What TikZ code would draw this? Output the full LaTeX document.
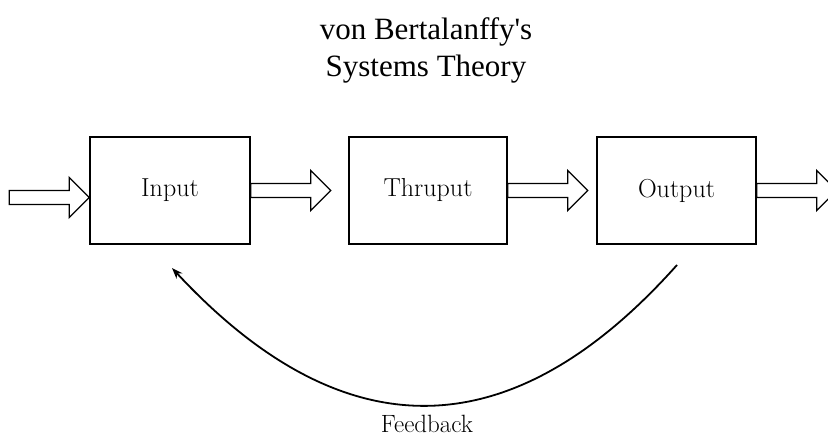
\documentclass[tikz,border=0pt]{standalone}
\usepackage{fontspec}
\newfontfamily\titlefont{Liberation Serif}
\usetikzlibrary{arrows.meta,calc}
\newcommand\blockarr[1]{\draw[blockline] ($#1+(0,-7)$) -- ++(60,0) -- ++(0,-13) -- ++(20,20) -- ++(-20,20) -- ++(0,-13) -- ++(-60,0) -- cycle;}
\begin{document}
\begin{tikzpicture}[x=1pt,y=-1pt,
  box/.style={draw, line width=1.6pt, minimum width=160pt, minimum height=107pt, inner sep=0pt, font=\fontsize{26}{30}\selectfont},
  blockline/.style={draw, line width=1.3pt, line join=miter},
  titletext/.style={anchor=base, font=\titlefont\fontsize{31}{37}\selectfont},
  feedarrow/.style={line width=1.8pt, -{Stealth[length=11pt,width=8pt]}}
]
\useasboundingbox (0,0) rectangle (828,436);
\clip (0,0) rectangle (828,436);
\node[titletext] (t1) at (426,40) {von Bertalanffy\textquotesingle s};
\node[titletext] (t2) at (426,77) {Systems Theory};
\node[box] (in) at (170,190.5) {Input};
\node[box, minimum width=158pt] (th) at (428,190.5) {Thruput};
\node[box, minimum width=159pt] (out) at (676.5,190.5) {Output};
\coordinate (a1) at ($(in.west)+(-80,7)$);
\blockarr{(a1)}
\blockarr{(in.east)}
\blockarr{(th.east)}
\blockarr{(out.east)}
\coordinate (fbs) at (677,265);
\coordinate (fbe) at (172,268);
\draw[feedarrow] (fbs) .. controls (511,451) and (343,452) .. (fbe);
\node[anchor=base, inner sep=0pt, font=\fontsize{25}{29}\selectfont] (fb) at (427,432) {Feedback};
\end{tikzpicture}
\end{document}
